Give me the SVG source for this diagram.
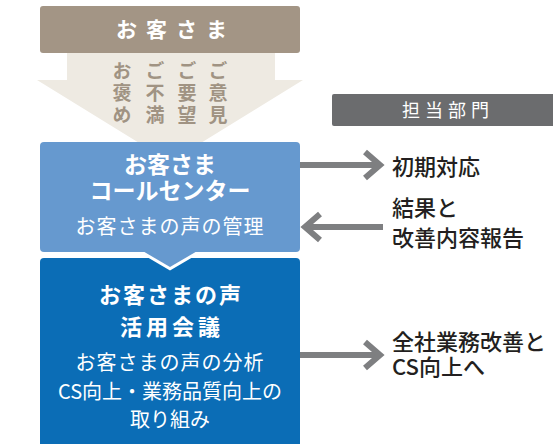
<svg xmlns="http://www.w3.org/2000/svg" width="553" height="444" viewBox="0 0 553 444">
<style>
text{font-family:"Noto Sans CJK JP","Noto Sans",sans-serif;}
.w{fill:#ffffff;text-anchor:middle;}
.b{font-weight:bold;}
.v{fill:#a09383;font-size:19px;font-weight:bold;writing-mode:vertical-rl;letter-spacing:3px;}
.r{fill:#231f20;font-size:22px;font-weight:500;}
.ln{stroke:#7e7f81;stroke-width:6;fill:none;}
</style>
<rect width="553" height="444" fill="#ffffff"/>
<g id="customer">
<polygon points="67,50 275,50 275,80 303,80 170,162 37,80 67,80" fill="#eeeae2"/>
<rect x="40" y="6" width="260" height="47" rx="3" fill="#a39585"/>
<text class="w b" x="176" y="37" font-size="21" letter-spacing="9">お客さま</text>
<g id="voices">
<text class="v" x="122" y="61">お褒め</text>
<text class="v" x="155" y="61">ご不満</text>
<text class="v" x="187" y="61">ご要望</text>
<text class="v" x="218" y="61">ご意見</text>
</g>
</g>
<g id="meeting">
<rect x="40" y="258" width="260" height="190" rx="4" fill="#0b6db6"/>
<text class="w b" font-size="22"><tspan x="171" y="303" letter-spacing="2">お客さまの声</tspan><tspan x="172" y="335" letter-spacing="4">活用会議</tspan></text>
<text class="w" font-size="20"><tspan x="170" y="370" letter-spacing="1">お客さまの声の分析</tspan><tspan x="170" y="399">CS向上・業務品質向上の</tspan><tspan x="170" y="427">取り組み</tspan></text>
</g>
<g id="callcenter">
<polygon points="141,250 199,250 170,267" fill="#6699cf" stroke="#ffffff" stroke-width="6"/>
<rect x="40" y="142" width="260" height="110" rx="4" fill="#6699cf"/>
<polygon points="141,250 199,250 170,267" fill="#6699cf"/>
<text class="w b" font-size="23"><tspan x="170" y="173">お客さま</tspan><tspan x="170" y="199">コールセンター</tspan></text>
<text class="w" x="170" y="234" font-size="20" letter-spacing="1">お客さまの声の管理</text>
</g>
<g id="dept">
<rect x="332" y="94" width="225" height="32" rx="2" fill="#6b6c6e"/>
<text class="w" x="448" y="117" font-size="18" letter-spacing="5">担当部門</text>
</g>
<g id="labels">
<text class="r" x="392" y="175">初期対応</text>
<text class="r"><tspan x="392" y="216">結果と</tspan><tspan x="392" y="246">改善内容報告</tspan></text>
<text class="r"><tspan x="392" y="350">全社業務改善と</tspan><tspan x="392" y="375">CS向上へ</tspan></text>
</g>
<g id="connectors">
<line class="ln" x1="300" y1="165" x2="380" y2="165"/>
<polyline class="ln" points="365,152 380,165 365,178"/>
<line class="ln" x1="304" y1="227" x2="383" y2="227"/>
<polyline class="ln" points="320,214 305,227 320,240"/>
<line class="ln" x1="300" y1="355" x2="380" y2="355"/>
<polyline class="ln" points="365,342 380,355 365,368"/>
</g>
</svg>
